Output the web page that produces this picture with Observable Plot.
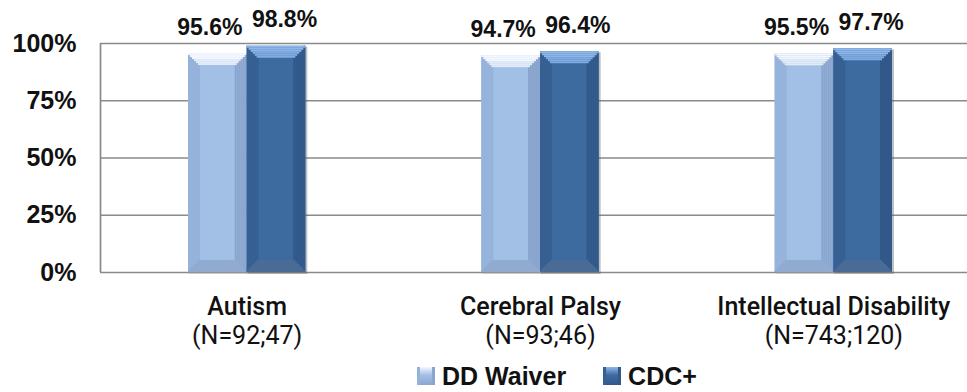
<!DOCTYPE html>
<html>
<head>
<meta charset="utf-8">
<script src="https://cdn.jsdelivr.net/npm/d3@7"></script>
<script src="https://cdn.jsdelivr.net/npm/@observablehq/plot@0.6"></script>
<style>
  html, body { margin: 0; padding: 0; background: #fff; }
  #chart { width: 967px; height: 392px; position: relative; overflow: hidden; }
  #legend { position: absolute; left: 417px; top: 361px; display: flex; align-items: center; font-family: "Liberation Sans", Arial, sans-serif; font-weight: bold; font-size: 25px; line-height: 30px; color: #111; }
  .item { display: flex; align-items: center; gap: 7px; }
  .item + .item { margin-left: 37px; }
  .sw { width: 18px; height: 18px; display: inline-block; box-sizing: border-box; }
</style>
</head>
<body>
<div id="chart"></div>
<script>
const categories = ["Autism", "Cerebral Palsy", "Intellectual Disability"];
const counts = ["(N=92;47)", "(N=93;46)", "(N=743;120)"];
const series = ["DD Waiver", "CDC+"];
const ddWaiver = [0.956, 0.947, 0.955];
const cdcPlus = [0.988, 0.964, 0.977];
const yTicks = [0, 0.25, 0.5, 0.75, 1];

const palette = {
  "DD Waiver": {front: "#a2bfe5", left: "#94b2da", right: "#8aa6ce", top: "#f4f8fe", top2: "#e2ecf9", bottom: "#90aad0", shadow: "#9aa3ad", dx: -8},
  "CDC+": {front: "#3d6a9f", left: "#365f92", right: "#32588a", top: "#8db6eb", top2: "#80abe3", bottom: "#4a6b96", shadow: "#5a6470", dx: 8}
};

const data = [];
categories.forEach((c, i) => {
  data.push({cat: c, i, s: "DD Waiver", v: ddWaiver[i], off0: -0.2, off1: 0});
  data.push({cat: c, i, s: "CDC+", v: cdcPlus[i], off0: 0, off1: 0.2});
});
const catData = categories.map((c, i) => ({cat: c, i, n: counts[i]}));

const BAR_W = 293.33 * 0.2;
const BEV = 12;
const x1 = d => d.i + d.off0;
const x2 = d => d.i + d.off1;

const marks = [];
marks.push(Plot.gridY(yTicks, {stroke: "#8a8a8a", strokeOpacity: 1, strokeWidth: 1.7}));
marks.push(Plot.ruleX([-0.5], {y1: 0, y2: 1, stroke: "#8a8a8a", strokeWidth: 1.7}));

for (const s of series) {
  const p = palette[s];
  const ds = data.filter(d => d.s === s);
  marks.push(Plot.rectY(ds, {x1, x2, y1: 0, y2: "v", fill: p.shadow, fillOpacity: 0.4, insetLeft: 1, insetRight: -2, insetTop: 1, insetBottom: -2}));
  marks.push(Plot.rectY(ds, {x1, x2, y1: 0, y2: "v", fill: p.front}));
  const steps = 6, st = BEV / steps;
  for (let k = 0; k < steps; k++) {
    marks.push(Plot.rectY(ds, {x1, x2, y1: 0, y2: "v", fill: p.left,
      insetLeft: k * st, insetRight: BAR_W - (k + 1) * st, insetTop: k * st, insetBottom: k * st}));
    marks.push(Plot.rectY(ds, {x1, x2, y1: 0, y2: "v", fill: p.right,
      insetRight: k * st, insetLeft: BAR_W - (k + 1) * st, insetTop: k * st, insetBottom: k * st}));
  }
  for (let k = 0; k < steps; k++) {
    marks.push(Plot.rectY(ds, {x1, x2, y1: "v", y2: "v", fill: k < steps / 2 ? p.top : p.top2,
      insetLeft: k * st, insetRight: k * st, insetTop: k * st, insetBottom: -(k + 1) * st}));
    marks.push(Plot.rectY(ds, {x1, x2, y1: 0, y2: 0, fill: p.bottom,
      insetLeft: k * st, insetRight: k * st, insetTop: -(k + 1) * st, insetBottom: k * st}));
  }
  marks.push(Plot.text(ds, {
    x: d => d.i + (d.off0 + d.off1) / 2, y: "v",
    text: d => (d.v * 100).toFixed(1) + "%",
    lineAnchor: "bottom", dy: -19, dx: p.dx, fill: "#111", fontSize: 23, fontWeight: "bold",
    fontFamily: "Liberation Sans, Arial, sans-serif"
  }));
}

marks.push(Plot.text(catData, {x: "i", y: 0, text: "cat", lineAnchor: "bottom", dy: 42, fill: "#111",
  fontSize: 25, fontWeight: 500, fontFamily: "Roboto"}));
marks.push(Plot.text(catData, {x: "i", y: 0, text: "n", lineAnchor: "bottom", dy: 71, fill: "#111",
  fontSize: 25, fontWeight: 400, fontFamily: "Roboto"}));

marks.push(Plot.axisY(yTicks, {tickFormat: d => Math.round(d * 100) + "%", tickSize: 0, tickPadding: 24,
  fontSize: 25, fontWeight: "bold", fontFamily: "Liberation Sans, Arial, sans-serif", fill: "#111", label: null}));

const chart = Plot.plot({
  width: 967,
  height: 352,
  marginLeft: 100,
  marginRight: 0,
  marginTop: 43,
  marginBottom: 80,
  x: {type: "linear", domain: [-0.5, 2.5], range: [100, 980], axis: null},
  y: {domain: [0, 1], axis: null},
  style: {background: "#fff", overflow: "visible"},
  marks
});
document.getElementById("chart").append(chart);

const leg = document.createElement("div");
leg.id = "legend";
series.forEach(s => {
  const p = palette[s];
  const it = document.createElement("span");
  it.className = "item";
  const sw = document.createElement("span");
  sw.className = "sw";
  sw.style.background = `linear-gradient(to bottom, ${p.top} 0%, ${p.front} 45%, ${p.right} 100%)`;
  sw.style.borderLeft = `3px solid ${p.left}`;
  sw.style.borderRight = `3px solid ${p.right}`;
  const tx = document.createElement("span");
  tx.textContent = s;
  it.append(sw, tx);
  leg.append(it);
});
document.getElementById("chart").append(leg);
</script>
</body>
</html>
